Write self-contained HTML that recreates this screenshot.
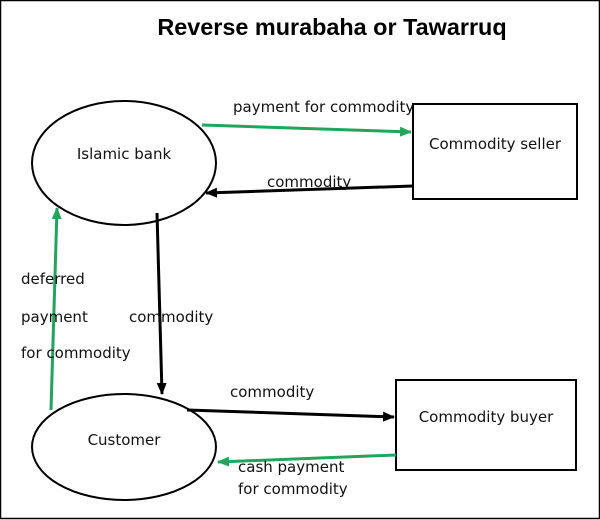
<!DOCTYPE html>
<html><head><style>
html,body{margin:0;padding:0;background:#fff;}
svg{display:block;}
text{font-family:"DejaVu Sans",sans-serif;font-size:15px;fill:#111;}
</style></head><body>
<svg width="600" height="520" viewBox="0 0 600 520">
<defs>
<marker id="ab" markerWidth="12" markerHeight="10" refX="11" refY="5" orient="auto" markerUnits="userSpaceOnUse"><path d="M0,0 L12,5 L0,10 z" fill="#000"/></marker>
<marker id="ag" markerWidth="12" markerHeight="10" refX="11" refY="5" orient="auto" markerUnits="userSpaceOnUse"><path d="M0,0 L12,5 L0,10 z" fill="#1fa55c"/></marker>
</defs>
<rect x="0.5" y="0.5" width="599" height="518" fill="#fff" stroke="#000" stroke-width="1.5"/>
<text x="332" y="35" text-anchor="middle" style="font-family:'Liberation Sans',sans-serif;font-size:23.4px;font-weight:bold;fill:#000">Reverse murabaha or Tawarruq</text>
<ellipse cx="124" cy="163" rx="92" ry="62" fill="#fff" stroke="#000" stroke-width="2"/>
<text x="124" y="159" text-anchor="middle">Islamic bank</text>
<ellipse cx="124" cy="447" rx="92" ry="53" fill="#fff" stroke="#000" stroke-width="2"/>
<text x="124" y="445" text-anchor="middle">Customer</text>
<rect x="413" y="104" width="164" height="95" fill="#fff" stroke="#000" stroke-width="2"/>
<text x="495" y="149" text-anchor="middle">Commodity seller</text>
<rect x="396" y="380" width="180" height="90" fill="#fff" stroke="#000" stroke-width="2"/>
<text x="486" y="422" text-anchor="middle">Commodity buyer</text>
<line x1="202" y1="125" x2="411" y2="132" stroke="#1fa55c" stroke-width="3" marker-end="url(#ag)"/>
<text x="233" y="112">payment for commodity</text>
<line x1="413" y1="186" x2="206" y2="193" stroke="#000" stroke-width="3" marker-end="url(#ab)"/>
<text x="267" y="187">commodity</text>
<line x1="157" y1="213" x2="162" y2="394" stroke="#000" stroke-width="3" marker-end="url(#ab)"/>
<text x="129" y="322">commodity</text>
<line x1="51" y1="410" x2="57" y2="208" stroke="#1fa55c" stroke-width="3" marker-end="url(#ag)"/>
<text x="21" y="284">deferred</text>
<text x="21" y="322">payment</text>
<text x="21" y="358">for commodity</text>
<line x1="187" y1="410" x2="394" y2="417" stroke="#000" stroke-width="3" marker-end="url(#ab)"/>
<text x="230" y="397">commodity</text>
<line x1="396" y1="455" x2="218" y2="462" stroke="#1fa55c" stroke-width="3" marker-end="url(#ag)"/>
<text x="238" y="472">cash payment</text>
<text x="238" y="494">for commodity</text>
</svg>
</body></html>
